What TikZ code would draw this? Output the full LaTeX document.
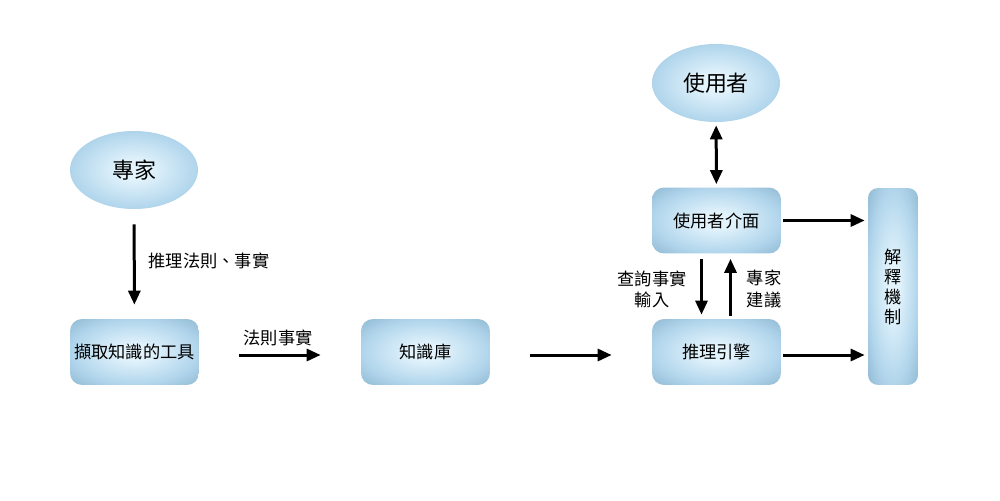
\documentclass[tikz,border=0pt]{standalone}
\usepackage{fontspec}
\setmainfont{Noto Sans CJK TC}
\usetikzlibrary{arrows.meta,shapes.geometric}
\definecolor{edgec}{RGB}{146,187,213}
\definecolor{midc}{RGB}{178,214,236}
\definecolor{centc}{RGB}{226,243,252}
\pgfdeclareradialshading{softglow}{\pgfpoint{0bp}{0bp}}{color(0bp)=(centc); color(6bp)=(centc); color(24bp)=(midc); color(35bp)=(edgec); color(100bp)=(edgec)}
\begin{document}
\begin{tikzpicture}[x=0.02cm,y=-0.02cm,
  >={Triangle[length=0.28cm,width=0.24cm]},
  shadebox/.style={rounded corners=0.24cm, minimum width=2.58cm, minimum height=1.32cm, inner sep=0pt,
    shading=softglow, font=\fontsize{9.8}{12}\selectfont},
  shadeell/.style={ellipse, minimum width=2.56cm, minimum height=1.56cm, inner sep=0pt,
    shading=softglow, font=\fontsize{12.5}{15}\selectfont},
  arr/.style={line width=0.06cm},
  lbl/.style={inner sep=0pt, align=center, font=\fontsize{9.8}{12}\selectfont}
]
\useasboundingbox (0,0) rectangle (1000,500);
\fill[white] (0,0) rectangle (1000,500);

\node[shadeell] (expert) at (134,170) {專家};
\node[shadeell] (user) at (716,83) {使用者};
\node[shadebox] (tool) at (134.5,352) {擷取知識的工具};
\node[shadebox] (kb) at (425.5,352) {知識庫};
\node[shadebox] (infer) at (716.5,352) {推理引擎};
\node[shadebox] (ui) at (716.5,220.5) {使用者介面};
\node[shadebox, minimum width=1cm, minimum height=3.94cm, rounded corners=0.2cm, align=center,
  font=\fontsize{9.8}{11.4}\selectfont] (explain) at (893,286.5) {解\\釋\\機\\制};

\coordinate (tA) at (tool.east|-0,355);
\coordinate (kA) at (kb.west|-0,355);
\coordinate (kB) at (kb.east|-0,355);
\coordinate (iA) at (infer.west|-0,355);
\coordinate (iB) at (infer.east|-0,355);
\coordinate (eB) at (explain.west|-0,355);

\draw[arr,->,shorten <=0.3cm,shorten >=0.28cm] (expert) -- (tool);
\draw[arr,->,shorten <=0.8cm,shorten >=0.8cm] (tA) -- (kA);
\draw[arr,->,shorten <=0.8cm,shorten >=0.8cm] (kB) -- (iA);
\draw[arr,<->,shorten <=0.06cm,shorten >=0.06cm] (user) -- (ui);
\draw[arr,->,shorten <=0.04cm,shorten >=0.06cm] (ui.east) -- (explain.west|-ui.east);
\draw[arr,->,shorten <=0.04cm,shorten >=0.06cm] (iB) -- (eB);
\draw[arr,->,shorten <=0.1cm,shorten >=0.08cm] ([xshift=-0.3cm]ui.south) -- ([xshift=-0.3cm]infer.north);
\draw[arr,->,shorten <=0.06cm,shorten >=0.1cm] ([xshift=0.28cm]infer.north) -- ([xshift=0.28cm]ui.south);

\node[lbl] (l1) at (209,261) {推理法則、事實};
\node[lbl] (l2) at (278,338) {法則事實};
\node[lbl] (l3) at (652,289) {查詢事實\\輸入};
\node[lbl] (l4) at (764,289) {專家\\建議};
\end{tikzpicture}
\end{document}
